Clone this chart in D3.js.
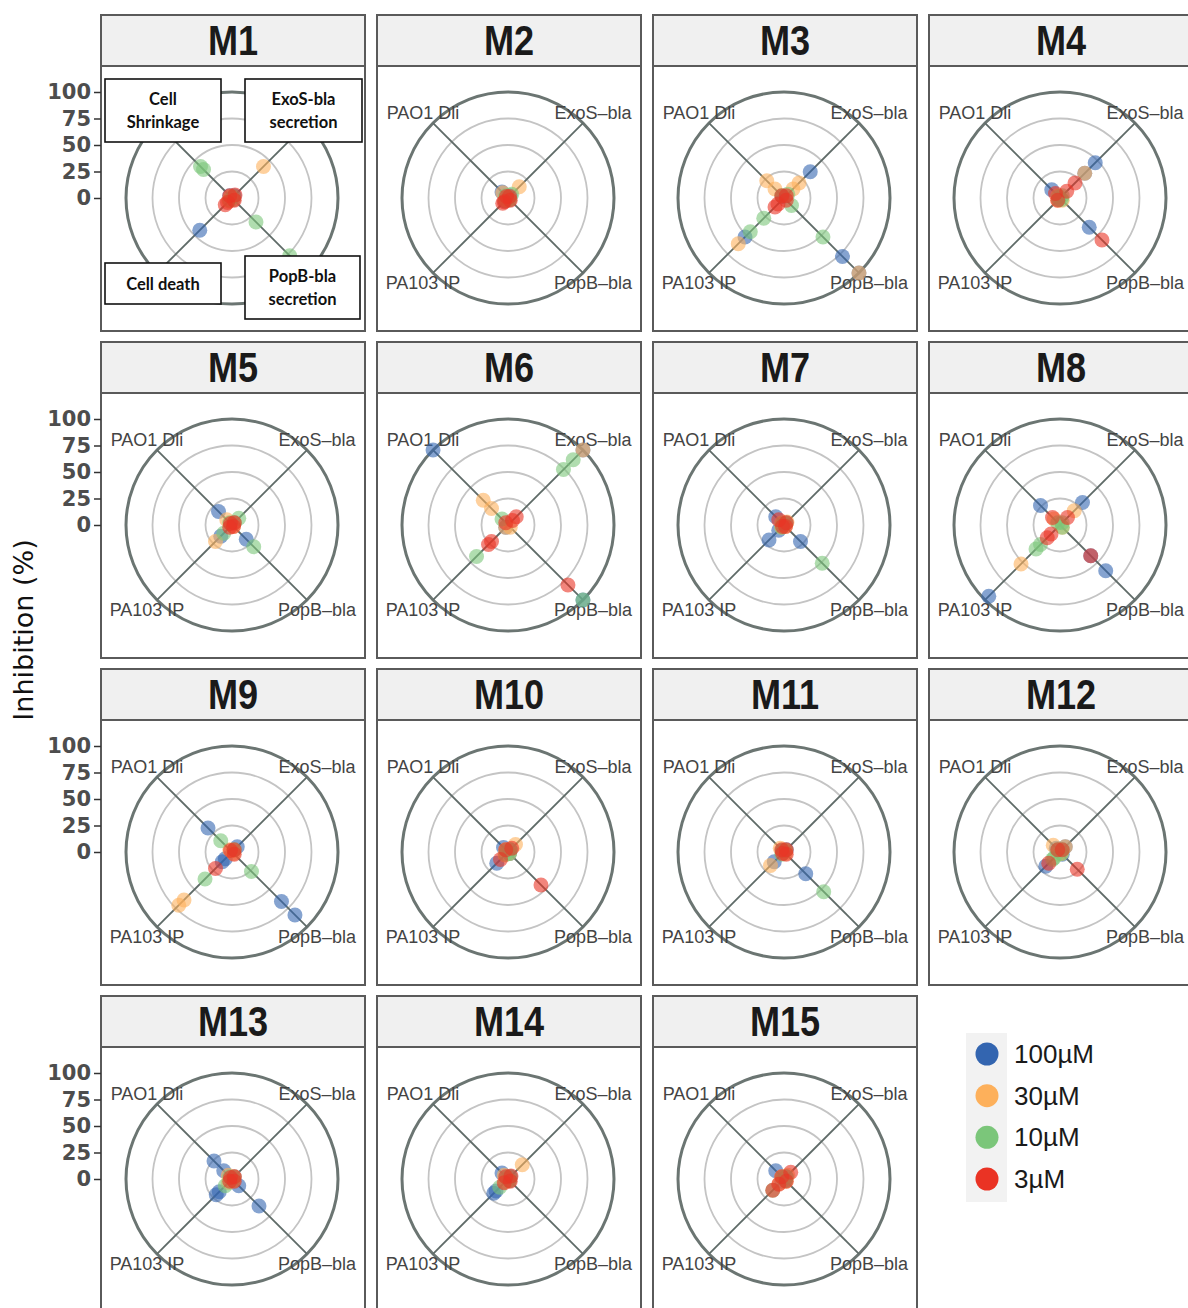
<!DOCTYPE html>
<html><head><meta charset="utf-8">
<script src="https://cdn.jsdelivr.net/npm/d3@7"></script>
<style>body{margin:0;background:#fff} svg{display:block}</style>
</head><body><svg id="chart" width="1188" height="1308"></svg>
<script>
const compounds = ["M1","M2","M3","M4","M5","M6","M7","M8","M9","M10","M11","M12","M13","M14","M15"];
const axes = ["PAO1 Dli","ExoS\u2013bla","PopB\u2013bla","PA103 IP"];
const axisAngles = [-45, 45, 135, 225];
const concentrations = ["100\u00b5M","30\u00b5M","10\u00b5M","3\u00b5M"];
const concColors = ["#3365b0","#fdb05b","#7bc67a","#ea3324"];
const rTicks = [0,25,50,75,100];
const gridTicks = [25,50,75];
const annotations = ["Cell\nShrinkage","ExoS-bla\nsecretion","PopB-bla\nsecretion","Cell death"];

// rows: [concentration index, axis index, inhibition %]
const M1 = [[0,0,3],[0,1,3],[0,2,2],[0,3,43],[1,0,2],[1,1,42],[1,2,2],[1,3,4],
  [2,0,42],[2,0,38],[2,1,2],[2,2,32],[2,2,77],[2,3,3],[3,0,3],[3,1,4],[3,2,3],[3,3,9],[3,3,6]];
const M2 = [[0,0,8],[0,1,3],[0,2,2],[0,3,4],[1,0,7],[1,1,15],[1,2,2],[1,3,3],
  [2,0,3],[2,1,5],[2,2,2],[2,3,3],[3,0,2],[3,1,2],[3,2,3],[3,3,7],[3,3,5]];
const M3 = [[0,0,2],[0,1,35],[0,2,78],[0,2,100],[0,3,52],[1,0,23],[1,0,12],[1,1,20],[1,1,12],[1,2,100],[1,3,61],
  [2,0,3],[2,1,5],[2,2,10],[2,2,52],[2,3,27],[2,3,45],[3,0,3],[3,1,3],[3,2,3],[3,3,12],[3,3,8]];
const M4 = [[0,0,11],[0,1,47],[0,1,33],[0,2,39],[0,3,2],[1,0,3],[1,1,33],[1,2,3],[1,3,3],
  [2,0,2],[2,1,3],[2,2,2],[2,3,2],[3,0,6],[3,1,20],[3,1,9],[3,2,56],[3,3,3]];
const M5 = [[0,0,18],[0,1,3],[0,2,19],[0,3,15],[1,0,7],[1,1,3],[1,2,2],[1,3,22],
  [2,0,3],[2,1,9],[2,2,29],[2,3,11],[3,0,2],[3,1,3],[3,2,2],[3,3,3]];
const M6 = [[0,0,100],[0,1,100],[0,2,100],[0,3,3],[1,0,33],[1,0,22],[1,1,100],[1,2,3],[1,3,3],
  [2,0,8],[2,1,74],[2,1,87],[2,2,100],[2,3,42],[3,0,3],[3,1,11],[3,1,6],[3,2,80],[3,3,22],[3,3,26]];
const M7 = [[0,0,11],[0,1,3],[0,2,22],[0,3,20],[0,3,7],[1,0,3],[1,1,4],[1,2,2],[1,3,3],
  [2,0,2],[2,1,2],[2,2,51],[2,3,3],[3,0,7],[3,1,3],[3,2,2],[3,3,2]];
const M8 = [[0,0,26],[0,1,30],[0,2,41],[0,2,61],[0,3,95],[1,0,8],[1,1,19],[1,2,3],[1,3,52],
  [2,0,3],[2,1,3],[2,2,3],[2,3,26],[2,3,32],[3,0,10],[3,1,10],[3,2,41],[3,3,12],[3,3,17]];
const M9 = [[0,0,32],[0,1,7],[0,2,66],[0,2,84],[0,3,13],[0,3,9],[1,0,3],[1,1,2],[1,2,2],[1,3,64],[1,3,71],
  [2,0,15],[2,1,3],[2,2,26],[2,3,36],[3,0,2],[3,1,3],[3,2,3],[3,3,22]];
const M10 = [[0,0,6],[0,1,3],[0,2,2],[0,3,15],[1,0,3],[1,1,10],[1,2,2],[1,3,4],
  [2,0,2],[2,1,3],[2,2,2],[2,3,3],[3,0,3],[3,1,5],[3,2,44],[3,3,10]];
const M11 = [[0,0,2],[0,1,3],[0,2,29],[0,3,13],[1,0,5],[1,1,2],[1,2,2],[1,3,18],
  [2,0,2],[2,1,2],[2,2,53],[2,3,3],[3,0,3],[3,1,3],[3,2,3],[3,3,2]];
const M12 = [[0,0,5],[0,1,7],[0,2,3],[0,3,19],[1,0,9],[1,1,7],[1,2,2],[1,3,3],
  [2,0,3],[2,1,3],[2,2,2],[2,3,8],[2,3,10],[3,0,3],[3,1,3],[3,2,23],[3,3,15]];
const M13 = [[0,0,24],[0,0,11],[0,1,3],[0,2,9],[0,2,36],[0,3,21],[0,3,17],[1,0,5],[1,1,3],[1,2,2],[1,3,5],
  [2,0,3],[2,1,2],[2,2,2],[2,3,9],[3,0,2],[3,1,3],[3,2,3],[3,3,3]];
const M14 = [[0,0,8],[0,1,3],[0,2,2],[0,3,19],[0,3,16],[1,0,5],[1,1,19],[1,2,2],[1,3,4],
  [2,0,2],[2,1,3],[2,2,2],[2,3,11],[3,0,3],[3,1,4],[3,2,3],[3,3,5]];
const M15 = [[0,0,11],[0,1,3],[0,2,2],[0,3,3],[1,0,3],[1,1,5],[1,2,3],[1,3,6],
  [2,0,2],[2,1,3],[2,2,2],[2,3,15],[3,0,3],[3,1,9],[3,2,3],[3,3,7],[3,3,15]];
const panelData = [M1,M2,M3,M4,M5,M6,M7,M8,M9,M10,M11,M12,M13,M14,M15];

const svg = d3.select("#chart");
const W = 264, stripH = 51, panelH = 265, colStep = 276, rowStep = 327, x0 = 101, y0 = 15;
const rScale = d3.scaleLinear().domain([0,100]).range([0,106]);
const angleScale = d3.scaleOrdinal().domain(axes).range(axisAngles);
const color = d3.scaleOrdinal().domain(concentrations).range(concColors);
const polar = (cx, cy, ang, r) => {
  const a = ang * Math.PI / 180;
  return [cx + r * Math.sin(a), cy - r * Math.cos(a)];
};

compounds.forEach((name, i) => {
  const col = i % 4, row = Math.floor(i / 4);
  const px = x0 + col * colStep, sy = y0 + row * rowStep, py = sy + stripH;
  const cx = px + 131, cy = py + 132;
  const g = svg.append("g");

  g.append("rect").attr("x", px).attr("y", py).attr("width", W).attr("height", panelH)
    .attr("fill", "#fff").attr("stroke", "#5a5a5a").attr("stroke-width", 2);
  g.append("rect").attr("x", px).attr("y", sy).attr("width", W).attr("height", stripH)
    .attr("fill", "#f0f0f0").attr("stroke", "#5a5a5a").attr("stroke-width", 2);
  g.append("text").attr("transform", `translate(${px + W/2},${sy + 40}) scale(0.86,1)`)
    .attr("text-anchor", "middle").attr("font-family", "Liberation Sans, Arial, sans-serif")
    .attr("font-weight", "bold").attr("font-size", 42).attr("fill", "#1a1a1a").text(name);

  const clipId = "clip" + i;
  svg.append("clipPath").attr("id", clipId).append("rect")
    .attr("x", px + 1).attr("y", py + 1).attr("width", W - 2).attr("height", panelH - 2);
  const pg = g.append("g").attr("clip-path", `url(#${clipId})`);

  pg.selectAll("circle.grid").data(gridTicks).join("circle").attr("class", "grid")
    .attr("cx", cx).attr("cy", cy).attr("r", d => rScale(d))
    .attr("fill", "none").attr("stroke", "#c4c4c4").attr("stroke-width", 1.8);
  pg.append("circle").attr("cx", cx).attr("cy", cy).attr("r", rScale(100))
    .attr("fill", "none").attr("stroke", "#6b7572").attr("stroke-width", 3);
  pg.selectAll("line.spoke").data(axes).join("line").attr("class", "spoke")
    .attr("x1", cx).attr("y1", cy)
    .attr("x2", d => polar(cx, cy, angleScale(d), rScale(100))[0])
    .attr("y2", d => polar(cx, cy, angleScale(d), rScale(100))[1])
    .attr("stroke", "#5f6b68").attr("stroke-width", 1.8);
  if (i !== 0) {
    pg.selectAll("text.axl").data(axes).join("text").attr("class", "axl")
      .attr("x", d => polar(cx, cy, angleScale(d), 120.2)[0])
      .attr("y", d => polar(cx, cy, angleScale(d), 120.2)[1])
      .attr("text-anchor", "middle").attr("dominant-baseline", "central")
      .attr("font-family", "Liberation Sans, Arial, sans-serif").attr("font-size", 18)
      .attr("fill", "#444").text(d => d);
  }

  const pts = panelData[i].slice().sort((a, b) => a[0] - b[0]);
  pg.selectAll("circle.pt").data(pts).join("circle").attr("class", "pt")
    .attr("cx", d => polar(cx, cy, angleScale(axes[d[1]]), rScale(d[2]))[0])
    .attr("cy", d => polar(cx, cy, angleScale(axes[d[1]]), rScale(d[2]))[1])
    .attr("r", 7.5).attr("fill", d => color(concentrations[d[0]])).attr("fill-opacity", 0.6);

  if (col === 0) {
    const y = d3.scaleLinear().domain([0,100]).range([cy, cy - rScale(100)]);
    const ax = svg.append("g").attr("transform", `translate(${px},0)`)
      .call(d3.axisLeft(y).tickValues(rTicks).tickSize(7).tickPadding(3));
    ax.select(".domain").remove();
    ax.selectAll(".tick line").attr("stroke", "#333").attr("stroke-width", 1.5);
    ax.selectAll(".tick text").attr("font-family", "DejaVu Sans, sans-serif")
      .attr("font-weight", "bold").attr("font-size", 21).attr("fill", "#4d4d4d");
  }

  if (i === 0) {
    const boxes = [
      {t: annotations[0], x: 105, y: 79, w: 116, h: 63},
      {t: annotations[1], x: 245, y: 79, w: 117, h: 63},
      {t: annotations[2], x: 245, y: 256, w: 115, h: 63},
      {t: annotations[3], x: 105, y: 263, w: 116, h: 41}
    ];
    boxes.forEach(b => {
      g.append("rect").attr("x", b.x).attr("y", b.y).attr("width", b.w).attr("height", b.h)
        .attr("fill", "#fff").attr("stroke", "#111").attr("stroke-width", 1.6);
      const lines = b.t.split("\n");
      lines.forEach((ln, k) => {
        g.append("text").attr("x", b.x + b.w/2)
          .attr("y", b.y + b.h/2 + (k - (lines.length - 1)/2) * 23)
          .attr("text-anchor", "middle").attr("dominant-baseline", "central")
          .attr("font-family", "Lato, Open Sans, sans-serif").attr("font-weight", "bold")
          .attr("font-size", 16.5).attr("fill", "#111").text(ln);
      });
    });
  }
});

// y-axis title
svg.append("text").attr("transform", "translate(33,630) rotate(-90)")
  .attr("text-anchor", "middle").attr("font-family", "DejaVu Sans, sans-serif")
  .attr("font-size", 27).attr("fill", "#111").text("Inhibition (%)");

// legend
const lg = svg.append("g");
lg.append("rect").attr("x", 966).attr("y", 1033).attr("width", 41).attr("height", 169).attr("fill", "#f2f2f2");
const ly = d3.scalePoint().domain(concentrations).range([1054, 1179]);
lg.selectAll("circle").data(concentrations).join("circle")
  .attr("cx", 987).attr("cy", d => ly(d)).attr("r", 11.5).attr("fill", d => color(d));
lg.selectAll("text").data(concentrations).join("text")
  .attr("x", 1014).attr("y", d => ly(d)).attr("dominant-baseline", "central")
  .attr("font-family", "Liberation Sans, Arial, sans-serif").attr("font-size", 26)
  .attr("fill", "#1a1a1a").text(d => d);
</script></body></html>
